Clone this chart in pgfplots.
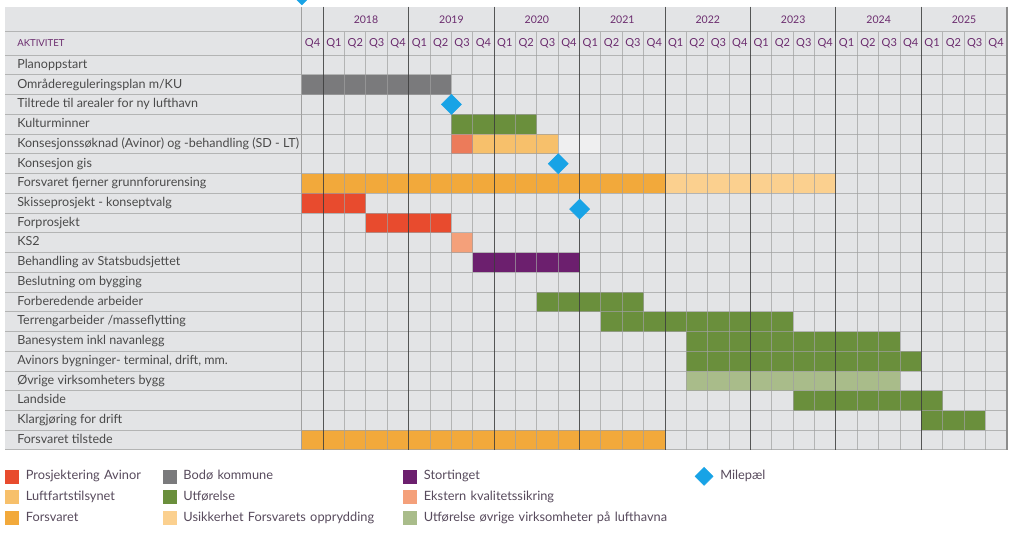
\documentclass[border=0pt]{standalone}
\usepackage{pgfplots}
\pgfplotsset{compat=1.18}
\usepackage{fontspec}
\setmainfont{Lato}

\definecolor{bgGray}{HTML}{E3E4E6}
\definecolor{gridGray}{HTML}{A0A0A0}
\definecolor{yearLine}{HTML}{3C3C3C}
\definecolor{edgeGray}{HTML}{8C8C8C}
\definecolor{txtGray}{HTML}{4A4A4A}
\definecolor{hdPurple}{HTML}{6B2C6E}
\definecolor{legTxt}{HTML}{574A5C}
\definecolor{cRed}{HTML}{E84B2E}
\definecolor{cGray}{HTML}{7A7A7C}
\definecolor{cPurple}{HTML}{6C1F6E}
\definecolor{cLuft}{HTML}{F7C06B}
\definecolor{cGreen}{HTML}{6A8F3C}
\definecolor{cSalmon}{HTML}{F4A07A}
\definecolor{cSalmonDk}{HTML}{EC7B5A}
\definecolor{cOrange}{HTML}{F2A93B}
\definecolor{cPale}{HTML}{FBD08F}
\definecolor{cLtGreen}{HTML}{A9BC8A}
\definecolor{cGhost}{HTML}{EFEFF0}
\definecolor{cBlue}{HTML}{18A3E6}

% one row = 14.81pt, one quarter = 16.02pt
\pgfplotsset{
  gantt/.style={line width=14.81pt, line cap=butt, unbounded coords=jump, forget plot, mark=none},
  sq legend/.style={legend image code/.code={\fill[##1] (0pt,-4.9pt) rectangle (9.8pt,4.9pt);}},
  dia legend/.style={legend image code/.code={\fill[##1] (0pt,0pt) -- (6.75pt,6.75pt) -- (13.5pt,0pt) -- (6.75pt,-6.75pt) -- cycle;}},
}

\begin{document}
\begin{tikzpicture}
\clip (-3.75pt,5pt) rectangle (763.5pt,-397.7pt);
\begin{axis}[
  at={(0,0)}, anchor=north west,
  scale only axis,
  x=16.02pt, y=14.81pt,
  y dir=reverse,
  xmin=-13.9, xmax=33, ymin=-2.45, ymax=20,
  clip=false,
  axis line style={draw=none},
  axis background/.style={fill=bgGray},
  xtick=\empty,
  major tick length=0pt,
  ytick={0.5,1.5,...,19.5},
  yticklabels={
    Planoppstart,
    Områdereguleringsplan m/KU,
    Tiltrede til arealer for ny lufthavn,
    Kulturminner,
    Konsesjonssøknad (Avinor) og -behandling (SD - LT),
    Konsesjon gis,
    Forsvaret fjerner grunnforurensing,
    Skisseprosjekt - konseptvalg,
    Forprosjekt,
    KS2,
    Behandling av Statsbudsjettet,
    Beslutning om bygging,
    Forberedende arbeider,
    Terrengarbeider /masseflytting,
    Banesystem inkl navanlegg,
    {Avinors bygninger- terminal, drift, mm.},
    Øvrige virksomheters bygg,
    Landside,
    Klargjøring for drift,
    Forsvaret tilstede},
  yticklabel style={anchor=west, inner sep=0pt, xshift=9pt,
    text height=7pt, text depth=2pt, text=txtGray,
    font=\fontsize{9.4}{11}\selectfont},
  legend columns=4,
  legend cell align=left,
  legend style={at={(axis description cs:0,0)}, anchor=north west,
    yshift=-11.85pt, draw=none, fill=none, inner sep=0pt,
    font=\fontsize{9.6}{11}\selectfont, text=legTxt,
    nodes={inner sep=0pt, text height=10.4pt, text depth=5pt, align=left},
    /tikz/every odd column/.style={column sep=5.25pt},
    /tikz/column 2/.style={text width=102.7pt},
    /tikz/column 4/.style={text width=164.9pt},
    /tikz/column 6/.style={text width=203.2pt}},
]

% bars: start and end quarter (0 = Q4 2017), row number - 0.5
\addplot[gantt, cGray] coordinates {(0,1.5) (7,1.5)};
\addplot[gantt, cGreen] coordinates {
  (7,3.5) (11,3.5) (nan,nan)
  (11,12.5) (16,12.5) (nan,nan)
  (14,13.5) (23,13.5) (nan,nan)
  (18,14.5) (28,14.5) (nan,nan)
  (18,15.5) (29,15.5) (nan,nan)
  (23,17.5) (30,17.5) (nan,nan)
  (29,18.5) (32,18.5)};
\addplot[gantt, cSalmonDk] coordinates {(7,4.5) (8,4.5)};
\addplot[gantt, cLuft] coordinates {(8,4.5) (12,4.5)};
\addplot[gantt, cGhost] coordinates {(12,4.5) (14,4.5)};
\addplot[gantt, cOrange] coordinates {(0,6.5) (17,6.5) (nan,nan) (0,19.5) (17,19.5)};
\addplot[gantt, cPale] coordinates {(17,6.5) (25,6.5)};
\addplot[gantt, cRed] coordinates {(0,7.5) (3,7.5) (nan,nan) (3,8.5) (7,8.5)};
\addplot[gantt, cSalmon] coordinates {(7,9.5) (8,9.5)};
\addplot[gantt, cPurple] coordinates {(8,10.5) (13,10.5)};
\addplot[gantt, cLtGreen] coordinates {(18,16.5) (28,16.5)};

% table lines
\pgfplotsinvokeforeach{0,...,20}{
  \draw[gridGray, line width=0.75pt, opacity=0.7] (axis cs:-13.9,#1) -- (axis cs:33,#1);
}
\draw[gridGray, line width=0.75pt, opacity=0.7] (axis cs:-13.9,-1.17) -- (axis cs:33,-1.17);
\pgfplotsinvokeforeach{2,3,4,6,7,8,10,11,12,14,15,16,18,19,20,22,23,24,26,27,28,30,31,32}{
  \draw[gridGray, line width=0.75pt, opacity=0.7] (axis cs:#1,-1.17) -- (axis cs:#1,20);
}
\draw[gridGray, line width=0.75pt] (axis cs:0,-2.45) -- (axis cs:0,20);
\pgfplotsinvokeforeach{1,5,9,13,17,21,25,29}{
  \draw[yearLine, line width=0.8pt, opacity=0.85] (axis cs:#1,-2.45) -- (axis cs:#1,20);
}
\draw[edgeGray, line width=1.1pt] (axis cs:33,-2.45) -- (axis cs:33,20);

% milestones
\addplot[only marks, mark=square*, mark size=5.3pt, mark options={rotate=45, draw=none},
  color=cBlue, forget plot] coordinates {(7,2.5) (12,5.5) (13,7.8) (0,-3.05)};

% header
\node[anchor=west, inner sep=0pt, xshift=9pt, text=hdPurple,
  font=\fontsize{7.2}{8}\selectfont] at (axis cs:-13.9,-0.585) {AKTIVITET};
\pgfplotsinvokeforeach{0,...,32}{
  \node[text=hdPurple, font=\fontsize{8.3}{10}\selectfont]
    at (axis cs:#1.5,-0.585) {Q\pgfmathparse{int(mod(#1+3,4)+1)}\pgfmathresult};
}
\node[text=hdPurple, font=\fontsize{7.9}{10}\selectfont] at (axis cs:3,-1.81) {2018};
\node[text=hdPurple, font=\fontsize{7.9}{10}\selectfont] at (axis cs:7,-1.81) {2019};
\node[text=hdPurple, font=\fontsize{7.9}{10}\selectfont] at (axis cs:11,-1.81) {2020};
\node[text=hdPurple, font=\fontsize{7.9}{10}\selectfont] at (axis cs:15,-1.81) {2021};
\node[text=hdPurple, font=\fontsize{7.9}{10}\selectfont] at (axis cs:19,-1.81) {2022};
\node[text=hdPurple, font=\fontsize{7.9}{10}\selectfont] at (axis cs:23,-1.81) {2023};
\node[text=hdPurple, font=\fontsize{7.9}{10}\selectfont] at (axis cs:27,-1.81) {2024};
\node[text=hdPurple, font=\fontsize{7.9}{10}\selectfont] at (axis cs:31,-1.81) {2025};

% legend
\addlegendimage{sq legend, cRed}
\addlegendentry{Prosjektering Avinor}
\addlegendimage{sq legend, cGray}
\addlegendentry{Bodø kommune}
\addlegendimage{sq legend, cPurple}
\addlegendentry{Stortinget}
\addlegendimage{dia legend, cBlue}
\addlegendentry{Milepæl}
\addlegendimage{sq legend, cLuft}
\addlegendentry{Luftfartstilsynet}
\addlegendimage{sq legend, cGreen}
\addlegendentry{Utførelse}
\addlegendimage{sq legend, cSalmon}
\addlegendentry{Ekstern kvalitetssikring}
\addlegendimage{empty legend}
\addlegendentry{}
\addlegendimage{sq legend, cOrange}
\addlegendentry{Forsvaret}
\addlegendimage{sq legend, cPale}
\addlegendentry{Usikkerhet Forsvarets opprydding}
\addlegendimage{sq legend, cLtGreen}
\addlegendentry{Utførelse øvrige virksomheter på lufthavna}
\end{axis}
\end{tikzpicture}
\end{document}
